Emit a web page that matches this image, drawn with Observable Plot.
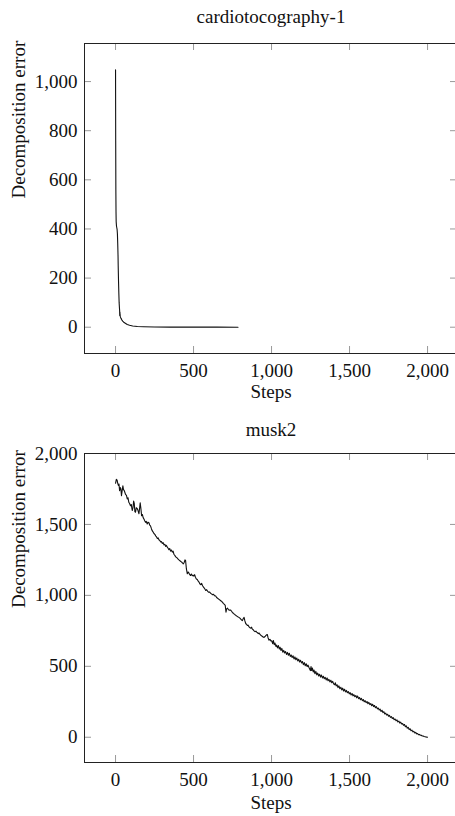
<!DOCTYPE html>
<html>
<head>
<meta charset="utf-8">
<script src="https://cdn.jsdelivr.net/npm/d3@7"></script>
<script src="https://cdn.jsdelivr.net/npm/@observablehq/plot@0.6"></script>
<style>
  html, body { margin: 0; padding: 0; background: #fff; overflow: hidden; }
  svg { display: block; }
  svg text { font-family: 'Liberation Serif', 'Times New Roman', serif !important; }
</style>
</head>
<body>
<div id="chart"></div>
<script>
const xTicks = [0, 500, 1000, 1500, 2000];
const yTicks1 = [0, 200, 400, 600, 800, 1000];
const yTicks2 = [0, 500, 1000, 1500, 2000];
const title1 = "cardiotocography-1";
const title2 = "musk2";
const xLabel = "Steps";
const yLabel = "Decomposition error";

const steps1 = [0, 1, 2, 3, 4, 6, 8, 10, 12, 14, 16, 17, 19, 21, 23, 25, 26, 27, 28, 29, 31, 35, 40, 46, 55, 65, 75, 90, 110, 140, 180, 250, 350, 500, 650, 785];
const err1 = [1048, 760, 560, 470, 430, 412, 405, 398, 380, 340, 290, 250, 190, 140, 100, 78, 70, 48, 62, 50, 42, 36, 30, 25, 19, 15, 11, 8, 5, 3, 2, 1, 0.5, 0.3, 0.2, 0.1];

const steps2 = [0,5,10,14,18,22,26,30,34,38,42,47,51,56,60,64,70,75,80,85,90,96,101,107,112,116,120,124,128,133,139,144,150,154,158,162,167,172,177,182,187,192,197,203,208,214,219,224,230,235,240,246,252,258,263,268,273,278,284,289,294,300,305,310,316,321,326,332,337,342,347,353,358,364,369,374,380,385,390,396,401,406,411,416,422,428,434,440,445,449,454,460,465,470,476,481,486,492,497,502,507,512,518,524,530,535,540,546,552,558,564,570,578,584,590,596,602,610,616,622,628,634,642,648,654,660,666,674,680,686,692,698,703,708,712,718,724,730,738,744,750,756,762,768,774,780,786,791,797,803,808,813,818,824,829,835,840,845,850,856,862,868,872,877,882,888,894,900,905,909,915,920,925,929,935,940,946,952,958,963,968,973,978,984,990,996,
1001,1007,1012,1017,1022,1028,1033,1038,1044,1050,1055,1060,1066,1072,1078,1084,1090,1096,1102,1108,1114,1120,1126,1132,1138,1144,1150,1156,1162,1168,1174,1180,1186,1192,1198,1204,1210,1216,1222,1228,1234,1240,1245,1249,1253,1257,1262,1267,1272,1278,1284,1290,1296,1302,1308,1314,1320,1326,1332,1338,1344,1350,1356,1362,1368,1374,1380,1386,1392,1398,1404,1409,1414,1420,1426,1432,1438,1444,1450,1456,1462,1468,1474,1480,1486,1492,1498,1504,1510,1516,1522,1528,1534,1540,1546,1552,1558,1564,1570,1576,1582,1588,1594,1600,1606,1612,1618,1624,1630,1636,1642,1648,1654,1660,1666,1672,1678,1684,1690,1696,1702,1708,1714,1720,1726,1732,1738,1744,1750,1756,1762,1768,1774,1780,1786,1792,1798,1804,1810,1816,1822,1828,1834,1840,1846,1852,1858,1864,1870,1876,1882,1888,1894,1900,1906,1912,1918,1924,1930,1936,1942,1948,1954,1960,1966,1972,1978,1984,1990,1996,2000];
const err2 = [1790,1818,1812,1790,1775,1785,1738,1760,1752,1703,1735,1772,1745,1738,1725,1712,1705,1680,1688,1656,1648,1632,1640,1598,1620,1664,1648,1590,1586,1618,1612,1598,1575,1612,1652,1618,1562,1570,1548,1538,1526,1515,1522,1503,1516,1512,1496,1490,1470,1456,1448,1436,1430,1418,1412,1400,1405,1392,1386,1376,1380,1366,1372,1356,1360,1345,1352,1340,1332,1322,1330,1312,1320,1305,1312,1290,1282,1272,1268,1262,1255,1250,1246,1240,1236,1230,1222,1232,1250,1246,1188,1152,1165,1158,1146,1140,1150,1138,1142,1136,1146,1128,1116,1112,1100,1094,1082,1076,1084,1068,1058,1050,1035,1040,1030,1022,1024,1014,1010,1004,1008,998,996,985,980,974,970,962,958,950,942,936,930,882,905,910,898,896,896,888,878,874,866,862,856,852,848,845,840,832,826,822,835,845,820,800,796,788,790,778,772,768,776,762,758,750,744,748,740,738,730,735,726,722,715,712,706,704,710,716,722,724,700,684,690,678,
680,660,682,652,664,640,650,630,646,622,634,612,626,600,612,594,604,584,598,578,592,570,580,562,574,552,566,546,558,538,550,530,542,524,534,512,526,504,518,498,508,492,480,470,498,470,488,460,474,448,464,440,452,432,444,424,438,418,430,412,422,404,418,398,408,390,402,384,394,376,370,384,362,370,350,362,342,352,334,346,326,338,320,330,314,322,306,314,298,308,292,300,286,294,278,290,272,280,264,274,258,266,250,258,244,252,236,246,230,238,222,232,216,224,208,216,200,206,192,198,182,190,174,180,164,170,156,162,148,154,140,146,132,138,124,128,116,122,108,114,100,106,94,96,84,90,74,80,64,70,54,60,46,50,38,42,30,34,24,26,18,20,14,14,9,9,5,4,2,1,0];

const W = 455;
const ML = 84, MR = -2;
const plotW = W - ML - MR;
const FONT = "'Liberation Serif', 'Times New Roman', serif";
const FS = 19;
const fmt = d3.format(",");

function makeChart({data, yTicks, yDomain, title, titleDy, height, mt, mb, labelDy}) {
  const plotH = height - mt - mb;
  return Plot.plot({
    width: W,
    height,
    marginLeft: ML,
    marginRight: MR,
    marginTop: mt,
    marginBottom: mb,
    style: {fontFamily: FONT, background: "white", overflow: "hidden"},
    x: {domain: [-199, 2192]},
    y: {domain: yDomain},
    marks: [
      Plot.tickX(xTicks, {x: d => d, insetTop: plotH - 7, stroke: "#999", strokeWidth: 1}),
      Plot.tickX(xTicks, {x: d => d, insetBottom: plotH - 7, stroke: "#999", strokeWidth: 1}),
      Plot.tickY(yTicks, {y: d => d, insetRight: plotW - 7, stroke: "#999", strokeWidth: 1}),
      Plot.tickY(yTicks, {y: d => d, insetLeft: plotW - 7, stroke: "#999", strokeWidth: 1}),
      Plot.line(data, {x: "step", y: "err", stroke: "#111", strokeWidth: 1.1}),
      Plot.frame({stroke: "#222", strokeWidth: 1}),
      Plot.axisX(xTicks, {anchor: "bottom", tickSize: 0, tickPadding: 10, tickFormat: fmt, fontSize: FS, fontFamily: FONT, fontVariant: "normal", fill: "#111", label: null}),
      Plot.axisY(yTicks, {anchor: "left", tickSize: 0, tickPadding: 7, tickFormat: fmt, fontSize: FS, fontFamily: FONT, fontVariant: "normal", fill: "#111", label: null}),
      Plot.text([title], {frameAnchor: "top", dy: titleDy, lineAnchor: "bottom", fontSize: FS, fontFamily: FONT, fill: "#111"}),
      Plot.text([xLabel], {frameAnchor: "bottom", dy: labelDy, lineAnchor: "bottom", fontSize: FS, fontFamily: FONT, fill: "#111"}),
      Plot.text([yLabel], {frameAnchor: "left", dx: -66, rotate: -90, lineAnchor: "middle", fontSize: FS, fontFamily: FONT, fill: "#111"})
    ]
  });
}

const data1 = steps1.map((s, i) => ({step: s, err: err1[i]}));
const data2 = steps2.map((s, i) => ({step: s, err: err2[i]}));

const c1 = makeChart({data: data1, yTicks: yTicks1, yDomain: [-107, 1155], title: title1, titleDy: -21, height: 410, mt: 43, mb: 57, labelDy: 44});
const c2 = makeChart({data: data2, yTicks: yTicks2, yDomain: [-178, 2000], title: title2, titleDy: -18, height: 406, mt: 43, mb: 54, labelDy: 46});
const root = document.getElementById("chart");
root.appendChild(c1);
root.appendChild(c2);
</script>
</body>
</html>
